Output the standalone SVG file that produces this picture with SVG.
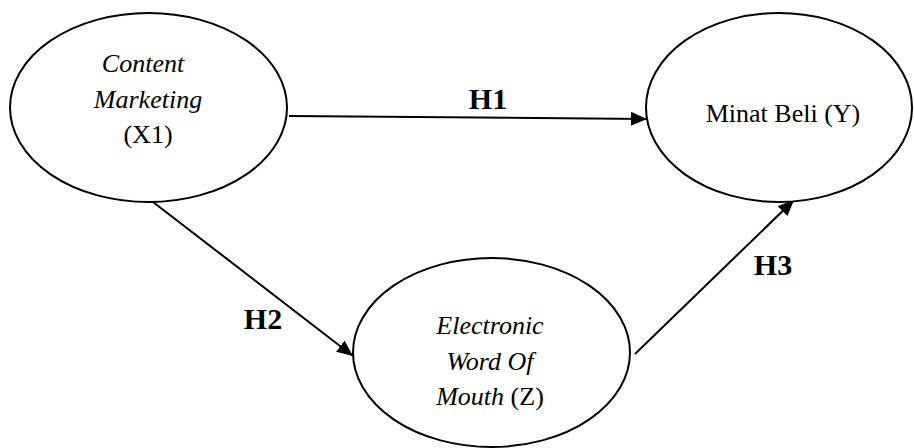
<svg xmlns="http://www.w3.org/2000/svg" width="914" height="448" viewBox="0 0 914 448">
<style>
.node{fill:#fff;stroke:#000;stroke-width:2}
.t{font-family:"Liberation Serif","Times New Roman",serif;font-size:26px;fill:#000;text-anchor:middle}
.i{font-style:italic}
.lbl{font-family:"Liberation Serif","Times New Roman",serif;font-size:30px;font-weight:bold;fill:#000;text-anchor:middle}
.edge{stroke:#000;stroke-width:2;fill:none;marker-end:url(#ah)}
</style>
<defs>
<marker id="ah" markerUnits="userSpaceOnUse" markerWidth="18" markerHeight="14" refX="16" refY="7" orient="auto">
<path d="M0,0 L16,7 L0,14 Z" fill="#000"/>
</marker>
</defs>
<g id="connectors">
<line class="edge" x1="289" y1="116" x2="647" y2="119"/>
<line class="edge" x1="153" y1="202" x2="353" y2="356"/>
<line class="edge" x1="635" y1="354" x2="794" y2="200"/>
<text class="lbl" x="488" y="109">H1</text>
<text class="lbl" x="263" y="329">H2</text>
<text class="lbl" x="773" y="275">H3</text>
</g>
<g id="content-marketing">
<ellipse class="node" cx="148.5" cy="107.5" rx="138.5" ry="94.5"/>
<text class="t i" x="143" y="72" font-size="28">Content</text>
<text class="t i" x="148" y="108">Marketing</text>
<text class="t" x="148" y="143">(X1)</text>
</g>
<g id="minat-beli">
<ellipse class="node" cx="779" cy="107.5" rx="133" ry="94.5"/>
<text class="t" x="783" y="122">Minat Beli (Y)</text>
</g>
<g id="ewom">
<ellipse class="node" cx="491.5" cy="352.5" rx="138.5" ry="94.5"/>
<text class="t i" x="490" y="334">Electronic</text>
<text class="t i" x="490" y="370">Word Of</text>
<text class="t" x="490" y="405"><tspan class="i">Mouth</tspan> (Z)</text>
</g>
</svg>
